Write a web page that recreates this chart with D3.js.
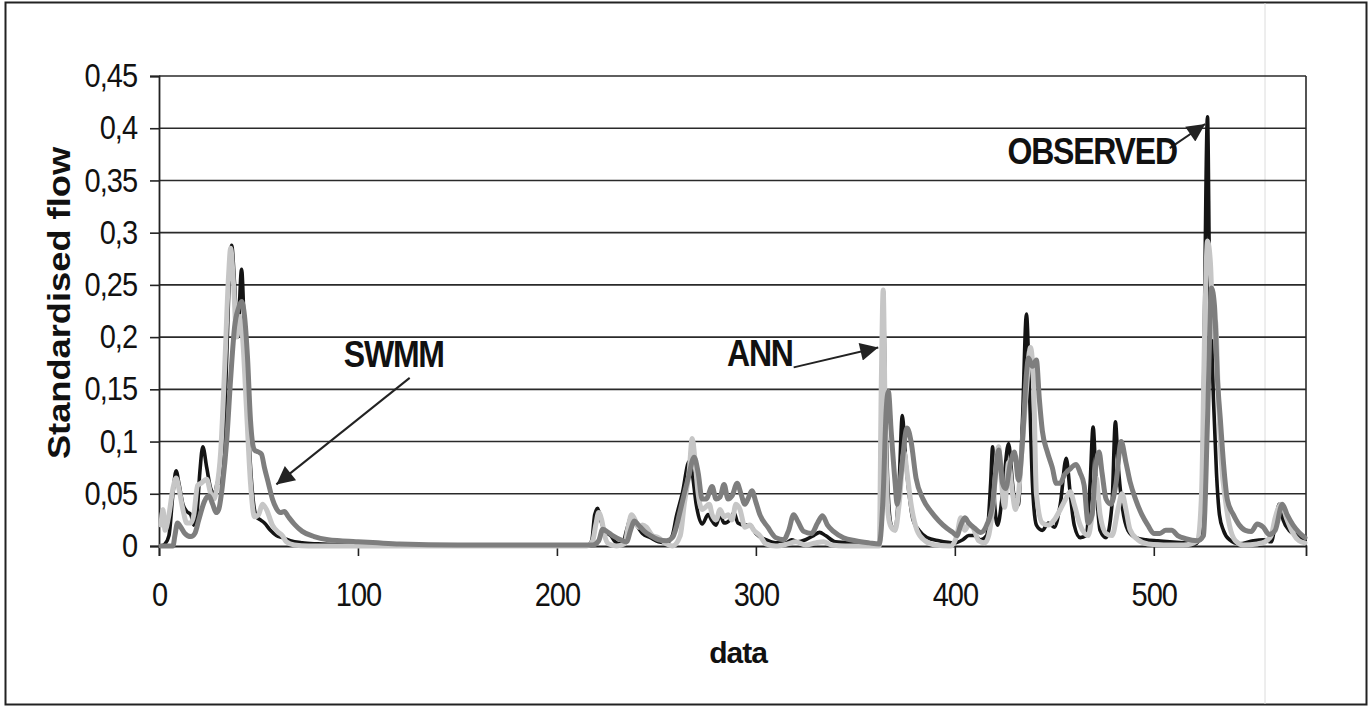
<!DOCTYPE html>
<html>
<head>
<meta charset="utf-8">
<script src="https://cdn.jsdelivr.net/npm/d3@7"></script>
<style>
  body { margin: 0; background: #fff; }
  text { font-family: "Liberation Sans", Arial, sans-serif; fill: #111; }
</style>
</head>
<body>
<div id="chart"></div>
<script>
// values (x = data index, y = standardised flow)
var obsX = [1,3,5,7,8.6,10,12,14,16,17.5,19,20.5,22,24,26,28,29.5,31,33,35,36.5,38,39.5,41.5,43,45,47,49,51,53,56,59,62,66,72,80,95,120,215,217.5,219,220.5,222,224,227,230,233,235,237.5,240,243,247,251,255,258,260,263,266.5,268,270,273,276,278,280,282,284,287,289,291,294,297,300,305,310,315,318,321,325,329,332,335,340,350,362,363,364,365,366.5,368,370,372,373.6,375,377,379,382,386,392,400,404,407,410,413,416,418,419,420,421.5,424,427,429,430.5,432,434,436,437.5,439,441,444,447,450,453,456,458,460,463,466,468,469.5,471,473,476,479,480.7,482,484,487,491,496,502,508,515,521,523.5,525,527,528,529,530,531.5,533,535,538,543,550,555,559,561,563,565,568,572,576];
var obsY = [0,0.002,0.01,0.05,0.072,0.06,0.04,0.033,0.03,0.02,0.03,0.07,0.095,0.075,0.055,0.05,0.062,0.06,0.12,0.24,0.288,0.25,0.2,0.265,0.2,0.11,0.05,0.028,0.025,0.022,0.015,0.01,0.008,0.005,0.003,0.002,0.001,0,0,0.005,0.03,0.036,0.025,0.015,0.01,0.003,0.002,0.015,0.028,0.02,0.012,0.008,0.004,0.003,0.01,0.028,0.05,0.081,0.07,0.04,0.021,0.03,0.024,0.02,0.03,0.022,0.025,0.032,0.022,0.02,0.02,0.012,0.006,0.003,0.003,0.006,0.004,0.006,0.01,0.013,0.01,0.004,0.003,0.002,0.1,0.245,0.15,0.05,0.02,0.015,0.06,0.125,0.09,0.05,0.025,0.015,0.008,0.005,0.003,0.006,0.01,0.01,0.006,0.01,0.06,0.095,0.04,0.02,0.05,0.098,0.06,0.037,0.04,0.12,0.222,0.15,0.06,0.02,0.015,0.022,0.018,0.04,0.084,0.05,0.02,0.008,0.01,0.06,0.114,0.06,0.015,0.008,0.04,0.119,0.08,0.04,0.015,0.008,0.006,0.005,0.004,0.003,0.002,0.01,0.15,0.411,0.26,0.2,0.14,0.07,0.03,0.015,0.006,0.002,0.005,0.006,0.004,0.02,0.04,0.025,0.015,0.01,0.005];

var annX = [1,2,3,5,7,8.6,10,12,14,16,17.5,19.4,21,24,26,27.5,29,31,33,35,36,37.5,39,40.5,42,44,46,48,50,52,54,57,60,62,64,68,75,215,218,219.5,221,222.5,224,226,230,234,236,237.5,239,241,243,245,248,251,255,258,262,264,266.5,268,269.5,271,273,276.6,278,280,282,284,286,288,290,292,294.5,297,299,302,305,310,316,320,325,330,334,338,345,362,363,364,365,366.5,368,370,372,374.5,376,378,381,385,390,398,401,403,405,407,409,412,415,417,419,422,423.5,425,427,429,430.5,432,434,436,438,439.5,441,444,447,450,453,456,458,460,463,467,469,471,473,476,479,482,484,486,488,492,497,505,515,522,524,525.5,527,528.5,530,531,532.5,534,536,538,541,545,552,556,559,561,564,567,570,573,576];
var annY = [0.02,0.035,0.015,0.03,0.055,0.065,0.055,0.035,0.022,0.022,0.03,0.058,0.06,0.064,0.05,0.045,0.055,0.09,0.17,0.26,0.285,0.25,0.2,0.22,0.2,0.13,0.06,0.028,0.03,0.04,0.035,0.02,0.013,0.01,0.004,0.001,0,0,0.005,0.02,0.032,0.025,0.01,0.002,0,0.002,0.02,0.03,0.026,0.018,0.02,0.018,0.01,0.008,0.002,0,0.01,0.04,0.072,0.103,0.08,0.05,0.035,0.04,0.03,0.025,0.035,0.028,0.03,0.025,0.04,0.035,0.018,0.02,0.015,0.01,0.002,0,0.002,0.004,0.001,0.003,0.004,0.001,0,0,0.15,0.245,0.12,0.03,0.018,0.015,0.04,0.09,0.07,0.04,0.015,0.005,0.001,0,0.01,0.027,0.015,0.02,0.018,0.005,0.003,0.01,0.035,0.095,0.06,0.037,0.08,0.05,0.035,0.05,0.1,0.15,0.19,0.16,0.05,0.022,0.02,0.025,0.035,0.046,0.052,0.04,0.02,0.01,0.03,0.065,0.03,0.012,0.01,0.035,0.05,0.035,0.016,0.006,0.002,0.001,0.001,0.005,0.05,0.2,0.292,0.27,0.2,0.215,0.14,0.08,0.044,0.02,0.005,0.001,0.002,0.004,0.01,0.027,0.04,0.025,0.012,0.005,0.003];

var swmmX = [1,7,8,9.3,11,13,16,18,20,22.9,25,27,28.7,30,32,34,36,38,40,41.5,43,44.5,46,48,50,51.5,53,55,57,59,61,63,65,68,72,78,85,91,100,110,121,150,200,218,221,223,225,228,232,235,237,239,241,244,247,251,255,258,260,261.5,264,266,269,271,273,275,278,280,282,284,286,288,290.6,292.5,294.5,296,298,300,302,306,310,314,316.5,319,321,324,328,331,333.5,336,339,344,350,357,362,364,365.5,366.6,368,370,371,373,376,378,380.5,384,388,392,396,399,401,403,405,407,410,413,416,419,420.5,422,424,425.5,428,430,432,434,436,437,439,441,442.5,444,446.5,449,451,453,455,457.5,461,463,465,467,469,470.5,472.5,474,476,478.5,481,483.6,486,488,491,494,497,500,503,506,509,512,516,522,525,527,529,530.5,532,533.5,535,537,540,543,546,549,552,555,558,561,564.6,567,570,573,576];
var swmmY = [0,0,0.01,0.022,0.018,0.012,0.009,0.012,0.025,0.043,0.048,0.04,0.032,0.035,0.06,0.1,0.16,0.21,0.228,0.234,0.22,0.18,0.12,0.092,0.09,0.088,0.075,0.06,0.045,0.036,0.032,0.033,0.028,0.021,0.014,0.009,0.006,0.005,0.004,0.003,0.002,0.001,0.001,0.001,0.005,0.016,0.014,0.01,0.006,0.004,0.015,0.024,0.02,0.014,0.01,0.006,0.005,0.008,0.018,0.03,0.05,0.065,0.085,0.07,0.045,0.045,0.057,0.045,0.047,0.059,0.045,0.048,0.06,0.05,0.04,0.045,0.053,0.042,0.03,0.018,0.008,0.006,0.015,0.03,0.024,0.014,0.012,0.022,0.029,0.02,0.014,0.008,0.005,0.003,0.002,0.05,0.13,0.148,0.11,0.06,0.04,0.07,0.113,0.1,0.065,0.045,0.033,0.024,0.017,0.013,0.01,0.02,0.027,0.022,0.017,0.013,0.02,0.04,0.07,0.092,0.06,0.055,0.08,0.09,0.063,0.1,0.165,0.18,0.172,0.178,0.14,0.11,0.09,0.075,0.06,0.06,0.068,0.073,0.078,0.07,0.058,0.022,0.03,0.07,0.09,0.07,0.045,0.04,0.06,0.1,0.08,0.062,0.044,0.03,0.02,0.012,0.012,0.015,0.015,0.01,0.007,0.005,0.01,0.12,0.247,0.23,0.16,0.12,0.08,0.044,0.03,0.02,0.015,0.014,0.021,0.018,0.011,0.015,0.04,0.03,0.02,0.013,0.008];

var yTicks = [0, 0.05, 0.1, 0.15, 0.2, 0.25, 0.3, 0.35, 0.4, 0.45];
var xTicks = [0, 100, 200, 300, 400, 500];

var svgWidth = 1371;
var svgHeight = 708;

var margin = { top: 76, right: 65, bottom: 162, left: 159 };
var width = svgWidth - margin.left - margin.right;
var height = svgHeight - margin.top - margin.bottom;

var svg = d3.select("#chart")
  .append("svg")
  .attr("width", svgWidth)
  .attr("height", svgHeight);

svg.append("rect")
  .attr("width", svgWidth).attr("height", svgHeight)
  .attr("fill", "#fff");

// outer chart frame
svg.append("rect")
  .attr("x", 5.5).attr("y", 2.5)
  .attr("width", 1361).attr("height", 702)
  .attr("fill", "none")
  .attr("stroke", "#222")
  .attr("stroke-width", 2);

// faint scan line
svg.append("line")
  .attr("x1", 1265).attr("x2", 1265)
  .attr("y1", 3).attr("y2", 704)
  .attr("stroke", "#dcdcdc")
  .attr("stroke-width", 1);

var chartGroup = svg.append("g")
  .attr("transform", `translate(${margin.left}, ${margin.top})`);

var xScale = d3.scaleLinear().domain([0, 576.5]).range([0, width]);
var yScale = d3.scaleLinear().domain([0, 0.45]).range([height, 0]);

var comma = d3.formatLocale({ decimal: ",", thousands: ".", grouping: [3], currency: ["", ""] }).format(".2~f");

// gridlines
chartGroup.append("g")
  .selectAll("line")
  .data(yTicks.slice(1))
  .enter()
  .append("line")
  .attr("x1", 0).attr("x2", width)
  .attr("y1", d => yScale(d)).attr("y2", d => yScale(d))
  .attr("stroke", "#2a2a2a")
  .attr("stroke-width", 1.6);

// right border of plot
chartGroup.append("line")
  .attr("x1", width).attr("x2", width)
  .attr("y1", 0).attr("y2", height)
  .attr("stroke", "#2a2a2a")
  .attr("stroke-width", 1.6);

// axes
var leftAxis = d3.axisLeft(yScale).tickValues(yTicks).tickFormat(comma).tickSize(9).tickPadding(13);
var bottomAxis = d3.axisBottom(xScale).tickValues(xTicks).tickFormat(d3.format("d")).tickSize(10).tickPadding(22);

var yAxisG = chartGroup.append("g").call(leftAxis);
var xAxisG = chartGroup.append("g")
  .attr("transform", `translate(0, ${height})`)
  .call(bottomAxis);

[yAxisG, xAxisG].forEach(function(g) {
  g.select(".domain").attr("stroke", "#222").attr("stroke-width", 1.8);
  g.selectAll(".tick line").attr("stroke", "#222").attr("stroke-width", 1.6);
  g.selectAll(".tick text")
    .attr("fill", "#111")
    .style("font-family", "'Liberation Sans', Arial, sans-serif")
    .style("font-size", "29px")
    .style("letter-spacing", "-1px");
});
yAxisG.selectAll(".tick text").attr("transform", "scale(1,1.14)");
xAxisG.selectAll(".tick text").attr("transform", "scale(1,1.14)");

// series lines
var line = d3.line()
  .x(d => xScale(d[0]))
  .y(d => yScale(d[1]))
  .curve(d3.curveMonotoneX);

var series = [
  { name: "OBSERVED", data: d3.zip(obsX, obsY), color: "#141414", w: 3.6 },
  { name: "ANN", data: d3.zip(annX, annY), color: "#c6c6c6", w: 5 },
  { name: "SWMM", data: d3.zip(swmmX, swmmY), color: "#7e7e7e", w: 5 }
];

chartGroup.selectAll(".series")
  .data(series)
  .enter()
  .append("path")
  .attr("class", "series")
  .attr("d", d => line(d.data))
  .attr("fill", "none")
  .attr("stroke", d => d.color)
  .attr("stroke-width", d => d.w)
  .attr("stroke-linejoin", "round")
  .attr("stroke-linecap", "round");

// axis titles
svg.append("text")
  .attr("transform", "translate(70, 303) scale(1,1.17) rotate(-90)")
  .attr("text-anchor", "middle")
  .style("font-size", "31px")
  .style("font-weight", "bold")
  .text("Standardised flow");

svg.append("text")
  .attr("x", 738)
  .attr("y", 663)
  .attr("text-anchor", "middle")
  .style("font-size", "30px")
  .style("font-weight", "bold")
  .style("letter-spacing", "-1px")
  .text("data");

// annotations with arrows (anchored in data space)
var defs = svg.append("defs");
defs.append("marker")
  .attr("id", "head")
  .attr("viewBox", "0 0 10 10")
  .attr("refX", 10).attr("refY", 5)
  .attr("markerUnits", "userSpaceOnUse")
  .attr("markerWidth", 22).attr("markerHeight", 18)
  .attr("orient", "auto")
  .append("path")
  .attr("d", "M0,0 L10,5 L0,10 z")
  .attr("fill", "#222");

var labels = ["SWMM", "ANN", "OBSERVED"];
var labelAt = [[118, 0.184], [302, 0.185], [469, 0.378]];
var arrowFrom = [[126, 0.161], [319, 0.171], [508, 0.381]];
var arrowTo = [[59, 0.059], [361.5, 0.19], [525.8, 0.404]];

labels.forEach(function(t, i) {
  chartGroup.append("line")
    .attr("x1", xScale(arrowFrom[i][0])).attr("y1", yScale(arrowFrom[i][1]))
    .attr("x2", xScale(arrowTo[i][0])).attr("y2", yScale(arrowTo[i][1]))
    .attr("stroke", "#222")
    .attr("stroke-width", 2)
    .attr("marker-end", "url(#head)");

  chartGroup.append("text")
    .attr("transform", `translate(${xScale(labelAt[i][0])}, ${yScale(labelAt[i][1])}) scale(1,1.14)`)
    .attr("text-anchor", "middle")
    .attr("dy", "0.36em")
    .style("font-size", "32px")
    .style("font-weight", "bold")
    .style("letter-spacing", "-1.2px")
    .text(t);
});
</script>
</body>
</html>
